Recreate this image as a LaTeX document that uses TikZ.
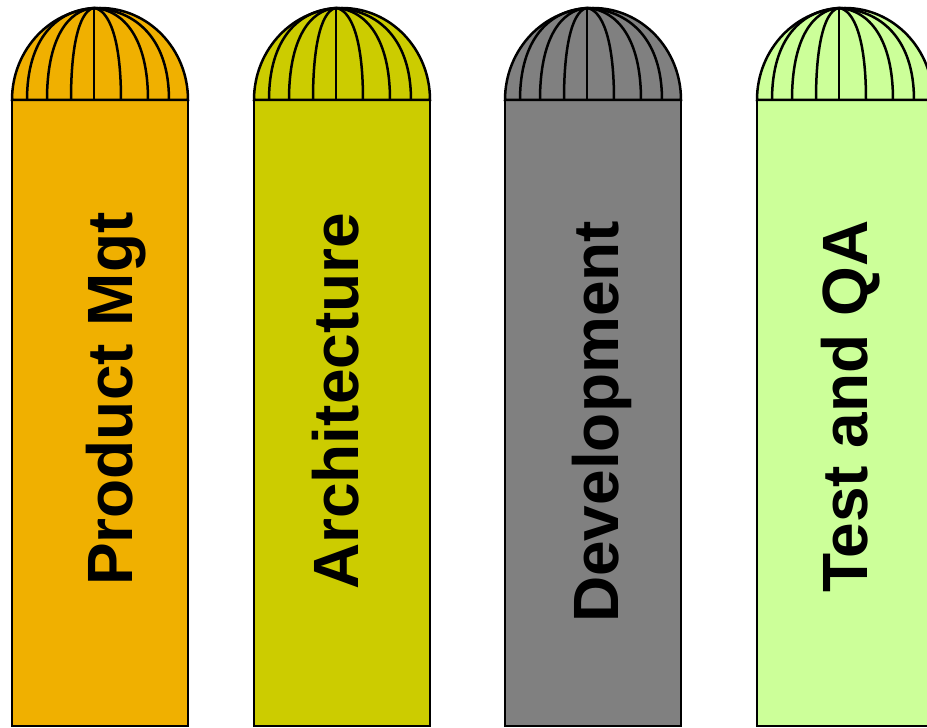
\documentclass[tikz,border=0pt]{standalone}
\usepackage{fontspec}
\setmainfont{Liberation Sans}
\definecolor{mgtorange}{RGB}{240,176,0}
\definecolor{archolive}{RGB}{204,204,0}
\definecolor{devgray}{RGB}{128,128,128}
\definecolor{testgreen}{RGB}{204,255,153}
\tikzset{
  pillar/.style={draw=black,line width=2.5pt},
  rib/.style={line width=2.5pt},
  pillartext/.style={rotate=90,anchor=base west,inner sep=0pt,font=\fontsize{64}{64}\selectfont\bfseries}
}
\begin{document}
\begin{tikzpicture}[x=1pt,y=1pt]
  \useasboundingbox (0,0) rectangle (927,728);
  \clip (0,0) rectangle (927,728);
  \foreach \colx/\col in {12/mgtorange,254/archolive,505/devgray,757/testgreen}{
    \filldraw[pillar,fill=\col] (\colx,2) rectangle ++(176,626);
    \filldraw[pillar,fill=\col] (\colx,628) arc[start angle=180,end angle=0,x radius=88,y radius=92] -- cycle;
    \foreach \xb in {15,35,59,82,109,136,157}
      \draw[rib] (\colx+\xb,628) .. controls (\colx+\xb,690) and ({\colx+82+(\xb-82)*0.55},718) .. (\colx+82,720);
  }
  \node[pillartext] (mgt) at (132,142) {Product Mgt};
  \node[pillartext] (arch) at (358,138) {Architecture};
  \node[pillartext] (dev) at (618,105) {Development};
  \node[pillartext] (test) at (867,135) {Test and QA};
\end{tikzpicture}
\end{document}
